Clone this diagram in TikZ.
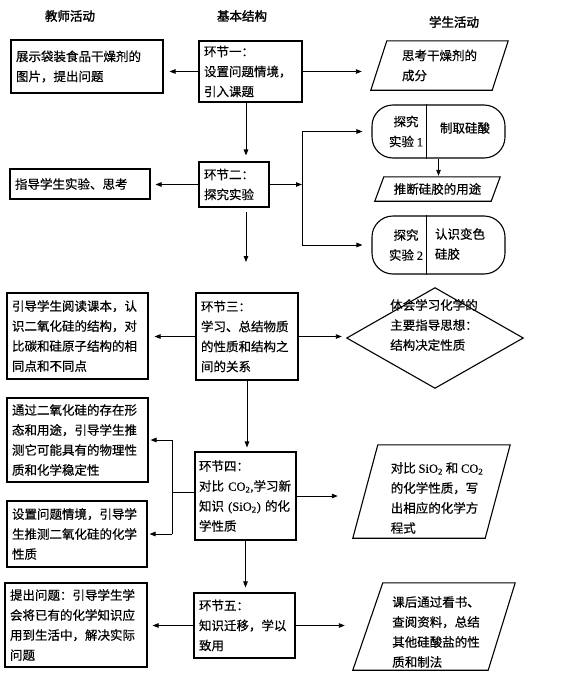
\documentclass[tikz,border=0pt]{standalone}
\usepackage{fontspec}
\setmainfont{Noto Sans CJK SC}[FakeBold=0.5]
\newfontfamily\headcjk{Noto Sans CJK SC}[FakeBold=2]
\newfontfamily\lat{Liberation Serif}[FakeBold=0.3]
\usetikzlibrary{arrows.meta,calc}
\newcommand\bodyfont{\fontsize{12.5}{20}\selectfont}
\newcommand\headfont{\fontsize{12.5}{15}\selectfont\headcjk}
\begin{document}
\begin{tikzpicture}[x=1pt,y=-1pt,
  box/.style={draw,line width=1.1pt,align=left,inner sep=0pt,font=\bodyfont},
  shp/.style={align=left,inner sep=0pt,font=\bodyfont},
  outl/.style={draw,line width=1.1pt},
  txt/.style={align=left,inner sep=0pt,font=\bodyfont},
  head/.style={inner sep=0pt,font=\headfont},
  arr/.style={-{Triangle[length=6pt,width=4.5pt]},line width=0.9pt},
  ln/.style={line width=0.9pt}]
\useasboundingbox (0,0) rectangle (570,688);

% headers
\node[head] (h1) at (70,16) {教师活动};
\node[head] (h2) at (242,16) {基本结构};
\node[head] (h3) at (454,22) {学生活动};

% left column
\node[box,minimum width=152pt,minimum height=53pt,text width=142pt] (l1) at (87,66.5) {展示袋装食品干燥剂的\\图片，提出问题};
\node[box,minimum width=140pt,minimum height=30pt,text width=130pt] (l2) at (80,184) {指导学生实验、思考};
\node[box,minimum width=141pt,minimum height=86pt,text width=131pt] (l3) at (77.5,336) {引导学生阅读课本，认\\识二氧化硅的结构，对\\比碳和硅原子结构的相\\同点和不同点};
\node[box,minimum width=141pt,minimum height=84pt,text width=131pt] (l4) at (77.5,440) {通过二氧化硅的存在形\\态和用途，引导学生推\\测它可能具有的物理性\\质和化学稳定性};
\node[box,minimum width=140pt,minimum height=66pt,text width=130pt] (l5) at (77,534) {设置问题情境，引导学\\生推测二氧化硅的化学\\性质};
\node[box,minimum width=142pt,minimum height=84pt,text width=132pt] (l6) at (76,625) {提出问题：引导学生学\\会将已有的化学知识应\\用到生活中，解决实际\\问题};

% center column
\node[box,minimum width=103pt,minimum height=61pt,text width=93pt] (c1) at (250.5,71.5) {环节一：\\设置问题情境，\\引入课题};
\node[box,minimum width=70pt,minimum height=45pt,text width=60pt] (c2) at (234,184.5) {环节二：\\探究实验};
\node[box,minimum width=102pt,minimum height=87pt,text width=92pt] (c3) at (247,336.5) {环节三：\\学习、总结物质\\的性质和结构之\\间的关系};
\node[box,minimum width=101pt,minimum height=88pt,text width=93pt] (c4) at (245.5,496) {环节四：\\对比~{\lat CO\textsubscript{2},}学习新\\知识~{\lat(SiO\textsubscript{2})}~的化\\学性质};
\node[box,minimum width=101pt,minimum height=65pt,text width=91pt] (c5) at (244.5,625.5) {环节五：\\知识迁移，学以\\致用};

% right column
\node[shp,minimum width=137pt,minimum height=49pt] (r1) at (439.5,65.5) {思考干燥剂的\\成分};
\draw[outl] ([xshift=16pt]r1.north west) -- (r1.north east) -- ([xshift=-16pt]r1.south east) -- (r1.south west) -- cycle;

\node[outl,rounded corners=21pt,minimum width=133pt,minimum height=53pt,inner sep=0pt] (r2) at (438.5,131.5) {};
\draw[outl] ([xshift=55pt]r2.north west) -- ([xshift=55pt]r2.south west);
\node[txt,align=center] (r2a) at (406,131.5) {探究\\实验~{\lat 1}};
\node[txt] (r2b) at (465,128) {制取硅酸};

\node[shp,minimum width=125pt,minimum height=24pt] (r3) at (437.5,189) {推断硅胶的用途};
\draw[outl] ([xshift=9pt]r3.north west) -- (r3.north east) -- ([xshift=-9pt]r3.south east) -- (r3.south west) -- cycle;

\node[outl,rounded corners=21pt,minimum width=133pt,minimum height=58pt,inner sep=0pt] (r4) at (438.5,245) {};
\draw[outl] ([xshift=55pt]r4.north west) -- ([xshift=55pt]r4.south west);
\node[txt,align=center] (r4a) at (406,245) {探究\\实验~{\lat 2}};
\node[txt] (r4b) at (460,244) {认识变色\\硅胶};

\node[inner sep=0pt,minimum width=176pt,minimum height=100pt] (r5) at (435,338) {};
\draw[outl] (r5.west) -- (r5.north) -- (r5.east) -- (r5.south) -- cycle;
\node[txt] (r5t) at (434,325) {体会学习化学的\\主要指导思想：\\结构决定性质};

\node[inner sep=0pt,minimum width=157pt,minimum height=93pt] (r6) at (431.5,491.5) {};
\draw[outl] ([xshift=25pt]r6.north west) -- (r6.north east) -- ([xshift=-25pt]r6.south east) -- (r6.south west) -- cycle;
\node[txt] (r6t) at (437,498) {对比~{\lat SiO\textsubscript{2}}~和~{\lat CO\textsubscript{2}}\\的化学性质，写\\出相应的化学方\\程式};

\node[inner sep=0pt,minimum width=162pt,minimum height=87pt] (r7) at (434,626.5) {};
\draw[outl] ([xshift=30pt]r7.north west) -- (r7.north east) -- ([xshift=-27pt]r7.south east) -- (r7.south west) -- cycle;
\node[txt] (r7t) at (436,632) {课后通过看书、\\查阅资料，总结\\其他硅酸盐的性\\质和制法};

% connectors
\draw[arr,shorten >=6pt] (c1.west) -- (c1.west -| l1.east);
\draw[arr,shorten >=9pt] (c1.east) -- (c1.east -| r1.west);
\coordinate (v1) at ([xshift=-4.5pt]c1.south);
\draw[arr,shorten >=6pt] (v1) -- (v1 |- c2.north);

\draw[arr,shorten >=5pt] (c2.west) -- (c2.west -| l2.east);
\coordinate (j1) at (302,184.5);
\draw[arr] (c2.east) -- (j1);
\draw[ln] (r2.west -| j1) -- (r4.west -| j1);
\draw[arr,shorten >=9pt] (r2.west -| j1) -- (r2.west);
\draw[arr,shorten >=9pt] (r4.west -| j1) -- (r4.west);
\draw[arr,shorten >=1pt] (r2.south) -- (r2.south |- r3.north);
\coordinate (c2e) at (246,262);
\draw[arr,shorten <=4pt] (c2.south -| c2e) -- (c2e);

\draw[arr,shorten >=6pt] (c3.west) -- (c3.west -| l3.east);
\draw[arr,shorten >=5pt] (c3.east) -- (c3.east -| r5.west);
\draw[arr,shorten >=4pt] (c3.south) -- (c3.south |- c4.north);

\coordinate (j2) at (172,492);
\draw[ln] (c4.west |- j2) -- (j2);
\draw[ln] (l4.east -| j2) -- (l5.east -| j2);
\draw[arr,shorten >=2pt] (l4.east -| j2) -- (l4.east);
\draw[arr,shorten >=2pt] (l5.east -| j2) -- (l5.east);
\draw[arr,shorten >=15pt] (c4.east) -- (c4.east -| r6.west);
\draw[arr,shorten >=5pt] (c4.south) -- (c4.south |- c5.north);

\draw[arr,shorten >=5pt] (c5.west) -- (c5.west -| l6.east);
\draw[arr,shorten >=8pt] (c5.east) -- (c5.east -| r7.west);
\end{tikzpicture}
\end{document}
